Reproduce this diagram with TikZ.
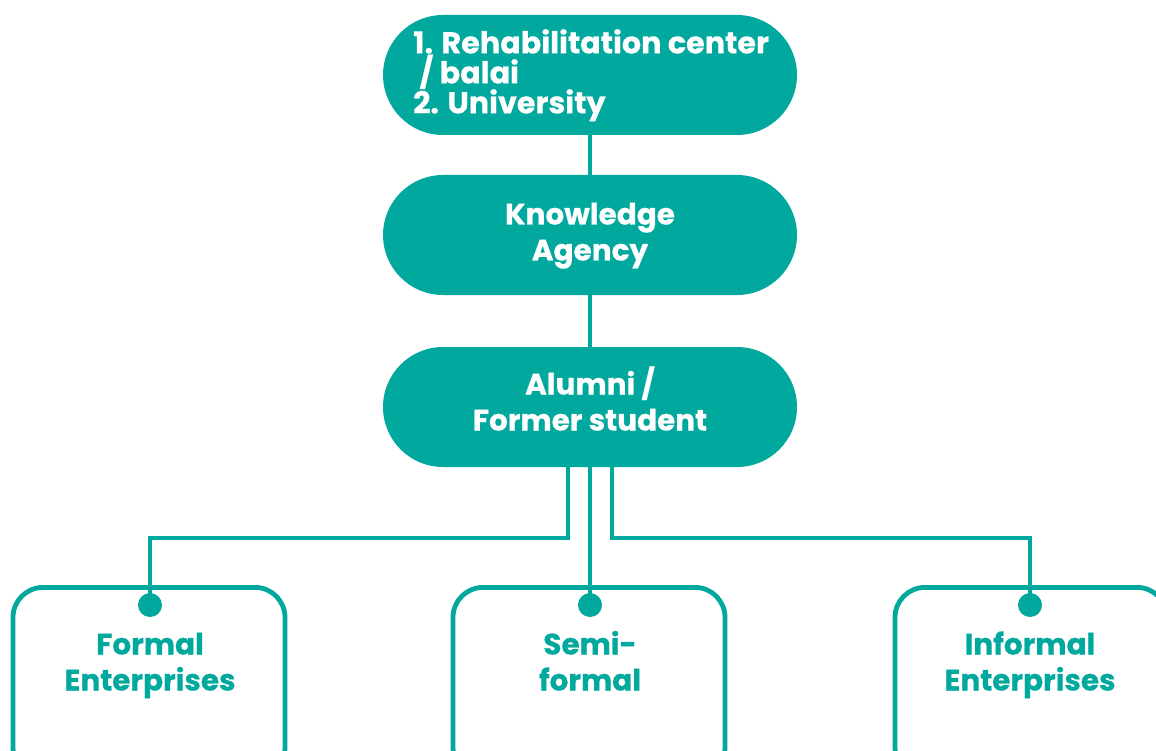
\documentclass[tikz,border=0pt]{standalone}
\usepackage{fontspec}
\setmainfont{Poppins}[BoldFeatures={FakeBold=0.5}]
\definecolor{tealc}{HTML}{00A89D}
\begin{document}
\begin{tikzpicture}[x=1pt,y=-1pt,
  pillfont/.style={font=\fontsize{29.5}{36}\selectfont\bfseries},
  pill/.style={fill=tealc, rounded corners=60pt, minimum width=414pt, minimum height=120pt, inner sep=0pt},
  ptext/.style={text=white, pillfont, align=center, text height=22pt, text depth=7pt, inner sep=0pt},
  leaf/.style={draw=tealc, line width=4.8pt, rounded corners=30pt, minimum width=272pt, minimum height=190pt, inner sep=0pt},
  leaftext/.style={text=tealc, pillfont, align=center, text height=22pt, text depth=7pt, inner sep=0pt},
  conn/.style={draw=tealc, line width=4.6pt},
  dot/.style={circle, fill=tealc, minimum size=24pt, inner sep=0pt}]
\useasboundingbox (0,0) rectangle (1156,751);
\clip (0,0) rectangle (1156,751);
% pills
\node[pill] (top) at (590,75) {};
\node[text=white, align=left, inner sep=0pt, anchor=north west, font=\fontsize{30.2}{30}\selectfont\bfseries] (ttop) at (413,29) {1. Rehabilitation center\\\ / balai\\2. University};
\node[pill] (know) at (590,235) {};
\node[ptext] (tknow) at (590,253) {Knowledge\\Agency};
\node[pill] (alum) at (590,407) {};
\node[ptext] (talum) at (590,423) {Alumni /\\Former student};
% leaves
\node[leaf, anchor=north] (formal) at (149,585) {};
\node[leaf, anchor=north] (semi) at (589,585) {};
\node[leaf, anchor=north] (informal) at (1031,585) {};
\node[leaftext] (tformal) at (150,683) {Formal\\Enterprises};
\node[leaftext] (tsemi) at (590,683) {Semi-\\formal};
\node[leaftext] (tinformal) at (1030,683) {Informal\\Enterprises};
% dots
\node[dot] (d1) at (150,605) {};
\node[dot] (d2) at (590,605) {};
\node[dot] (d3) at (1030,605) {};
% connectors
\draw[conn] (top.south) -- (know.north);
\draw[conn] (know.south) -- (alum.north);
\coordinate (aL) at ([xshift=-22pt]alum.south);
\coordinate (aR) at ([xshift=22pt]alum.south);
\coordinate (hy) at (0,538);
\draw[conn] (aL) |- (hy -| d1) -- (d1.center);
\draw[conn] (alum.south) -- (d2.center);
\draw[conn] (aR) |- (hy -| d3) -- (d3.center);
\end{tikzpicture}
\end{document}
